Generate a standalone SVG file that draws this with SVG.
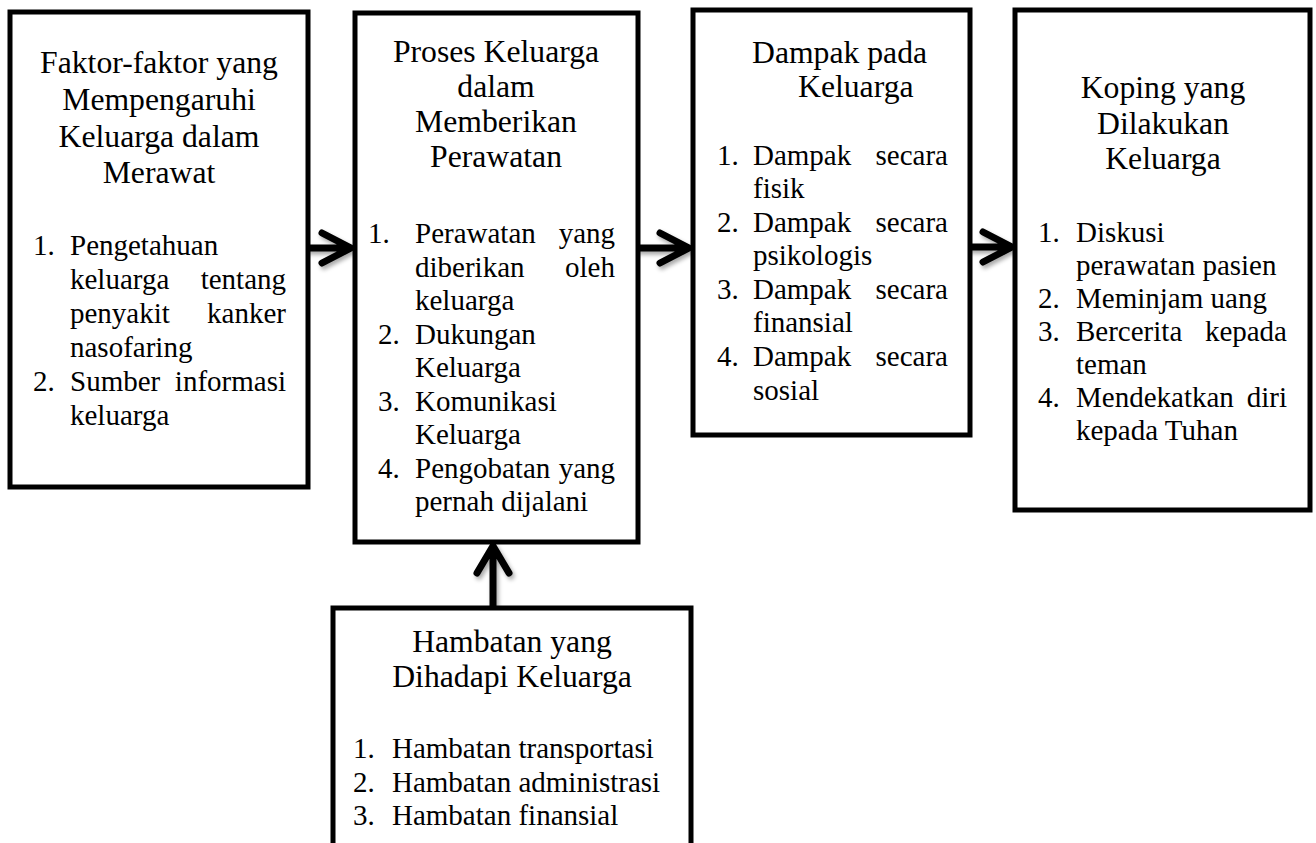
<svg xmlns="http://www.w3.org/2000/svg" width="1316" height="843" viewBox="0 0 1316 843">
<style>
.box{fill:#fff;stroke:#000;stroke-width:5}
.t{font-family:"Liberation Serif","Times New Roman",serif;font-size:31.7px;fill:#000;text-anchor:middle}
.l{font-family:"Liberation Serif","Times New Roman",serif;font-size:29px;fill:#000}
.e{text-anchor:end}
.arr{fill:none;stroke:#000;stroke-width:7;stroke-linecap:round;stroke-linejoin:round}
</style>
<defs>
<filter id="sh" x="-30%" y="-30%" width="160%" height="160%">
<feDropShadow dx="2" dy="3" stdDeviation="2" flood-color="#000" flood-opacity="0.35"/>
</filter>
</defs>
<rect width="1316" height="843" fill="#fff"/>
<g id="connectors" filter="url(#sh)">
<path class="arr" d="M308 248 H350 M322 233 L351 248 L322 263"/>
<path class="arr" d="M638 248 H688 M660 233 L689 248 L660 263"/>
<path class="arr" d="M970 247 H1011 M983 232 L1012 247 L983 262"/>
<path class="arr" d="M493 608 V547 M477 573 L493 546 L509 573"/>
</g>
<g id="faktor">
<rect class="box" x="10" y="12" width="298" height="475"/>
<text class="t" x="159" y="73">Faktor-faktor yang</text>
<text class="t" x="159" y="110">Mempengaruhi</text>
<text class="t" x="159" y="147">Keluarga dalam</text>
<text class="t" x="159" y="183">Merawat</text>
<text class="l" x="33" y="255">1.</text><text class="l" x="70" y="255">Pengetahuan</text>
<text class="l" x="70" y="289">keluarga</text><text class="l e" x="286" y="289">tentang</text>
<text class="l" x="70" y="323">penyakit</text><text class="l e" x="286" y="323">kanker</text>
<text class="l" x="70" y="357">nasofaring</text>
<text class="l" x="33" y="391">2.</text><text class="l" x="70" y="391">Sumber</text><text class="l e" x="286" y="391">informasi</text>
<text class="l" x="70" y="425">keluarga</text>
</g>
<g id="proses">
<rect class="box" x="355" y="13" width="283" height="529"/>
<text class="t" x="496" y="62">Proses Keluarga</text>
<text class="t" x="496" y="97">dalam</text>
<text class="t" x="496" y="132">Memberikan</text>
<text class="t" x="496" y="167">Perawatan</text>
<text class="l" x="368" y="243">1.</text><text class="l" x="415" y="243">Perawatan</text><text class="l e" x="615" y="243">yang</text>
<text class="l" x="415" y="277">diberikan</text><text class="l e" x="615" y="277">oleh</text>
<text class="l" x="415" y="310">keluarga</text>
<text class="l" x="378" y="344">2.</text><text class="l" x="415" y="344">Dukungan</text>
<text class="l" x="415" y="377">Keluarga</text>
<text class="l" x="378" y="411">3.</text><text class="l" x="415" y="411">Komunikasi</text>
<text class="l" x="415" y="444">Keluarga</text>
<text class="l" x="378" y="478">4.</text><text class="l" x="415" y="478">Pengobatan</text><text class="l e" x="615" y="478">yang</text>
<text class="l" x="415" y="511">pernah dijalani</text>
</g>
<g id="dampak">
<rect class="box" x="693" y="10" width="277" height="425"/>
<text class="t" x="752" y="63" style="text-anchor:start">Dampak pada</text>
<text class="t" x="798" y="97" style="text-anchor:start">Keluarga</text>
<text class="l" x="717" y="165">1.</text><text class="l" x="753" y="165">Dampak</text><text class="l e" x="948" y="165">secara</text>
<text class="l" x="753" y="198">fisik</text>
<text class="l" x="717" y="232">2.</text><text class="l" x="753" y="232">Dampak</text><text class="l e" x="948" y="232">secara</text>
<text class="l" x="753" y="265">psikologis</text>
<text class="l" x="717" y="299">3.</text><text class="l" x="753" y="299">Dampak</text><text class="l e" x="948" y="299">secara</text>
<text class="l" x="753" y="332">finansial</text>
<text class="l" x="717" y="366">4.</text><text class="l" x="753" y="366">Dampak</text><text class="l e" x="948" y="366">secara</text>
<text class="l" x="753" y="400">sosial</text>
</g>
<g id="koping">
<rect class="box" x="1015" y="10" width="295" height="500"/>
<text class="t" x="1163" y="98">Koping yang</text>
<text class="t" x="1163" y="134">Dilakukan</text>
<text class="t" x="1163" y="169">Keluarga</text>
<text class="l" x="1038" y="242">1.</text><text class="l" x="1076" y="242">Diskusi</text>
<text class="l" x="1076" y="275">perawatan pasien</text>
<text class="l" x="1038" y="308">2.</text><text class="l" x="1076" y="308">Meminjam uang</text>
<text class="l" x="1038" y="341">3.</text><text class="l" x="1076" y="341">Bercerita</text><text class="l e" x="1287" y="341">kepada</text>
<text class="l" x="1076" y="374">teman</text>
<text class="l" x="1038" y="407">4.</text><text class="l" x="1076" y="407">Mendekatkan</text><text class="l e" x="1287" y="407">diri</text>
<text class="l" x="1076" y="440">kepada Tuhan</text>
</g>
<g id="hambatan">
<rect class="box" x="333" y="608" width="358" height="260"/>
<text class="t" x="512" y="652">Hambatan yang</text>
<text class="t" x="512" y="687">Dihadapi Keluarga</text>
<text class="l" x="353" y="758">1.</text><text class="l" x="392" y="758">Hambatan transportasi</text>
<text class="l" x="353" y="792">2.</text><text class="l" x="392" y="792">Hambatan administrasi</text>
<text class="l" x="353" y="825">3.</text><text class="l" x="392" y="825">Hambatan finansial</text>
</g>
</svg>
